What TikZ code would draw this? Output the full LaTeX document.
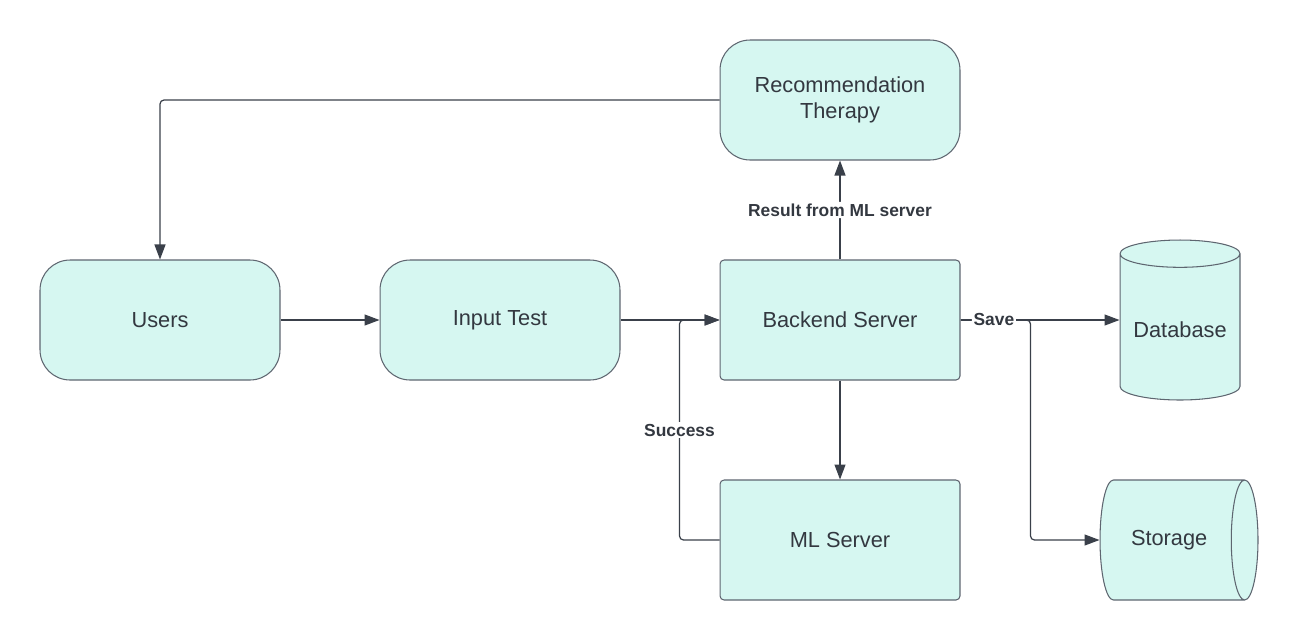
\documentclass[tikz,border=0pt]{standalone}
\usepackage{fontspec}
\setmainfont{Liberation Sans}
\usetikzlibrary{arrows.meta,shapes.geometric}
\definecolor{boxfill}{RGB}{214,247,241}
\definecolor{boxline}{RGB}{94,102,112}
\definecolor{wire}{RGB}{58,64,74}
\definecolor{ink}{RGB}{51,56,64}
\begin{document}
\begin{tikzpicture}[x=.02cm,y=-.02cm,line join=round,
box/.style={draw=boxline,fill=boxfill,line width=.6pt,minimum width=4.8cm,minimum height=2.4cm,text=ink,font=\fontsize{12.4}{15}\selectfont,align=center},
soft/.style={box,rounded corners=.6cm},
hard/.style={box,rounded corners=.08cm},
drum/.style={box,cylinder,anchor=shape center},
conn/.style={draw=wire,line width=.7pt,rounded corners=.08cm,-{Triangle[length=.3cm,width=.22cm]}},
lbl/.style={fill=white,text=ink,font=\bfseries\fontsize{9.9}{12}\selectfont,inner sep=1pt}]
\useasboundingbox (0,0) rectangle (1300,640);
\node[soft] (users) at (160,320) {Users};
\node[soft] (input) at (500,320) {Input Test};
\node[hard] (backend) at (840,320) {Backend Server};
\node[soft] (rec) at (840,100) {Recommendation\\Therapy};
\node[hard] (ml) at (840,540) {ML Server};
\node[drum,shape border rotate=90,minimum height=3.2cm,minimum width=2.4cm,aspect=.26] (db) at (1180,320) {Database};
\node[drum,minimum height=3.16cm,minimum width=2.4cm,aspect=.85] (store) at (1179,540) {Storage};
\draw[conn] (rec.west) -| (users.north);
\draw[conn] (users.east) -- (input.west);
\draw[conn] (input.east) -- (backend.west);
\draw[conn] (ml.west) -- ++(-40,0) coordinate (bend) -- node[lbl]{Success} (bend |- backend.west) -- (backend.west);
\draw[conn] (backend.north) -- node[lbl]{Result from ML server} (rec.south);
\draw[conn] (backend.south) -- (ml.north);
\draw[conn] (backend.east) -- ++(70,0) |- (store.west);
\draw[conn] (backend.east) -- node[lbl,pos=.21]{Save} (backend.east -| db.west);
\end{tikzpicture}
\end{document}
